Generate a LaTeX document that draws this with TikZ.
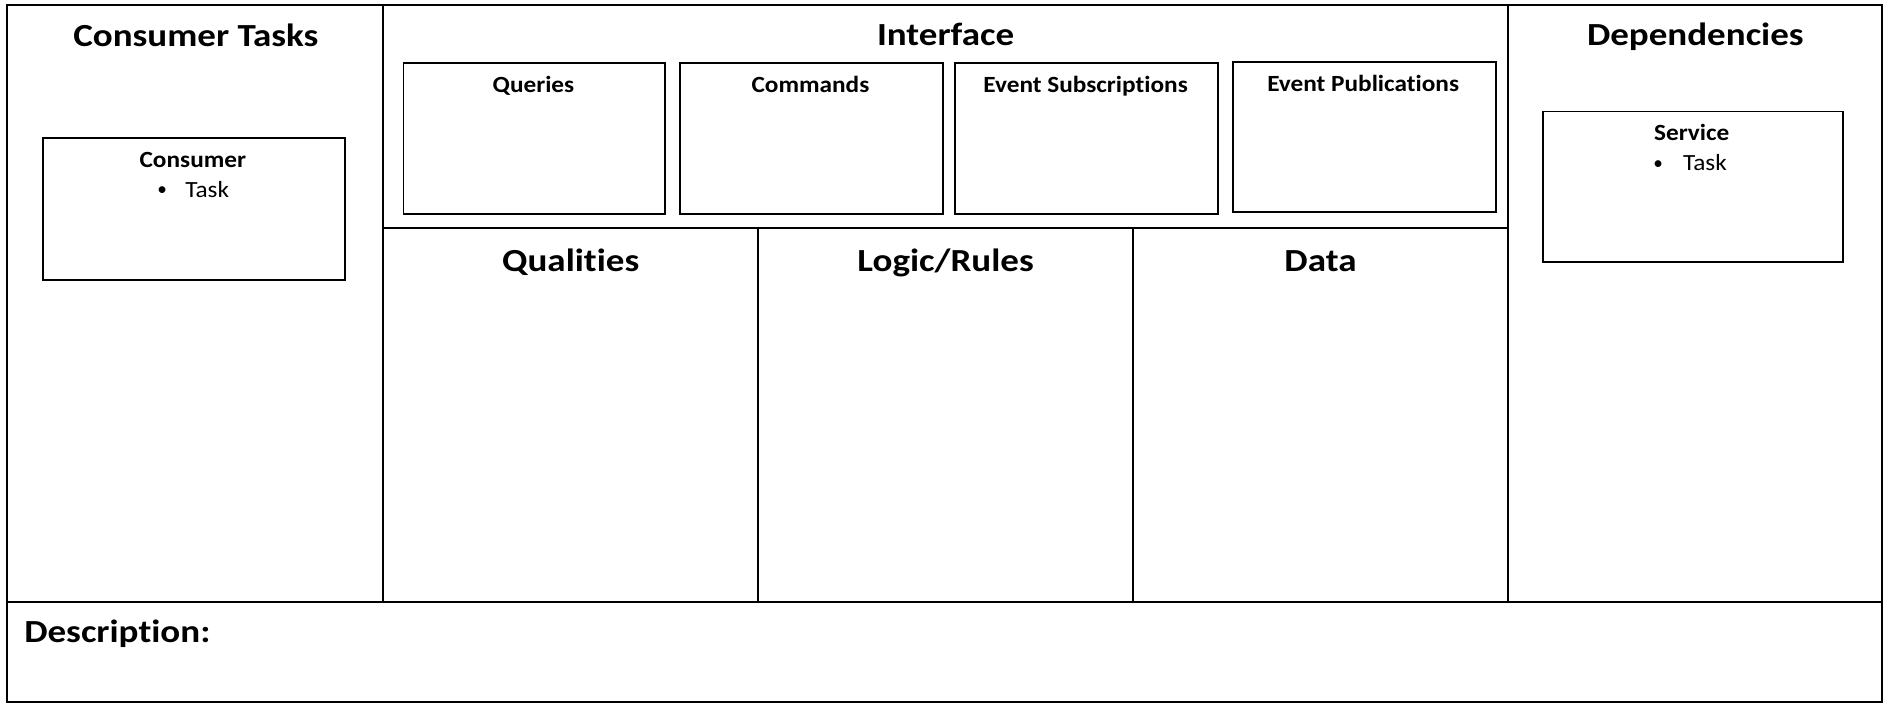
\documentclass[tikz,border=0pt]{standalone}
\usepackage{fontspec}
\setmainfont[Ligatures=NoCommon]{Carlito}
\newfontfamily\titlefam[FakeStretch=1.15,Ligatures=NoCommon]{Carlito}
\newfontfamily\subfam[FakeStretch=1.09,Ligatures=NoCommon]{Carlito}
\begin{document}
\begin{tikzpicture}[x=1pt,y=-1pt,
  frame/.style={line width=1.7pt,black},
  subbox/.style={draw,line width=1.6pt,inner sep=0pt,anchor=north west},
  title/.style={font=\titlefam\bfseries\fontsize{26.8}{30}\selectfont,anchor=base,inner sep=0pt},
  sublabel/.style={font=\subfam\bfseries\fontsize{19.3}{22}\selectfont,anchor=base,inner sep=0pt},
  itemtext/.style={font=\subfam\fontsize{19.3}{22}\selectfont,anchor=base west,inner sep=0pt},
  bullet/.style={font=\fontsize{16}{22}\selectfont,anchor=base,inner sep=0pt}]
\useasboundingbox (0,0) rectangle (1568,585);
% grid
\draw[frame] (6,4) rectangle (1566,584);
\draw[frame] (319,4) -- (319,501);
\draw[frame] (1255,4) -- (1255,501);
\draw[frame] (6,501) -- (1566,501);
\draw[frame] (319,190) -- (1255,190);
\draw[frame] (631,190) -- (631,501);
\draw[frame] (943,190) -- (943,501);
% titles
\node[title] (tconsumer) at (163,39) {Consumer Tasks};
\node[title] (tinterface) at (787,38) {Interface};
\node[title] (tdeps) at (1411,38) {Dependencies};
\node[title] (tqual) at (475,226) {Qualities};
\node[title] (tlogic) at (787,226) {Logic/Rules};
\node[title] (tdata) at (1099,226) {Data};
\node[title,anchor=base west] (tdesc) at (20,535) {Description:};
% interface sub boxes
\node[subbox,minimum width=218pt,minimum height=125pt] (bq) at (335,52) {};
\node[subbox,minimum width=219pt,minimum height=125pt] (bc) at (565,52) {};
\node[subbox,minimum width=219pt,minimum height=125pt] (bs) at (794,52) {};
\node[subbox,minimum width=219pt,minimum height=125pt] (bp) at (1025,51) {};
\node[sublabel] (lq) at (444,77) {Queries};
\node[sublabel] (lc) at (674.5,77) {Commands};
\node[sublabel] (ls) at (903.5,77) {Event Subscriptions};
\node[sublabel] (lp) at (1134.5,76) {Event Publications};
% consumer box
\node[subbox,minimum width=251pt,minimum height=118pt] (bcons) at (35,114) {};
\node[sublabel] (lcons) at (160.5,139) {Consumer};
\node[bullet] (bul1) at (135,163) {•};
\node[itemtext] (task1) at (154,164) {Task};
% service box
\node[subbox,minimum width=250pt,minimum height=125pt] (bserv) at (1283,92) {};
\node[sublabel] (lserv) at (1408,117) {Service};
\node[bullet] (bul2) at (1380,141) {•};
\node[itemtext] (task2) at (1400.5,142) {Task};
\end{tikzpicture}
\end{document}
